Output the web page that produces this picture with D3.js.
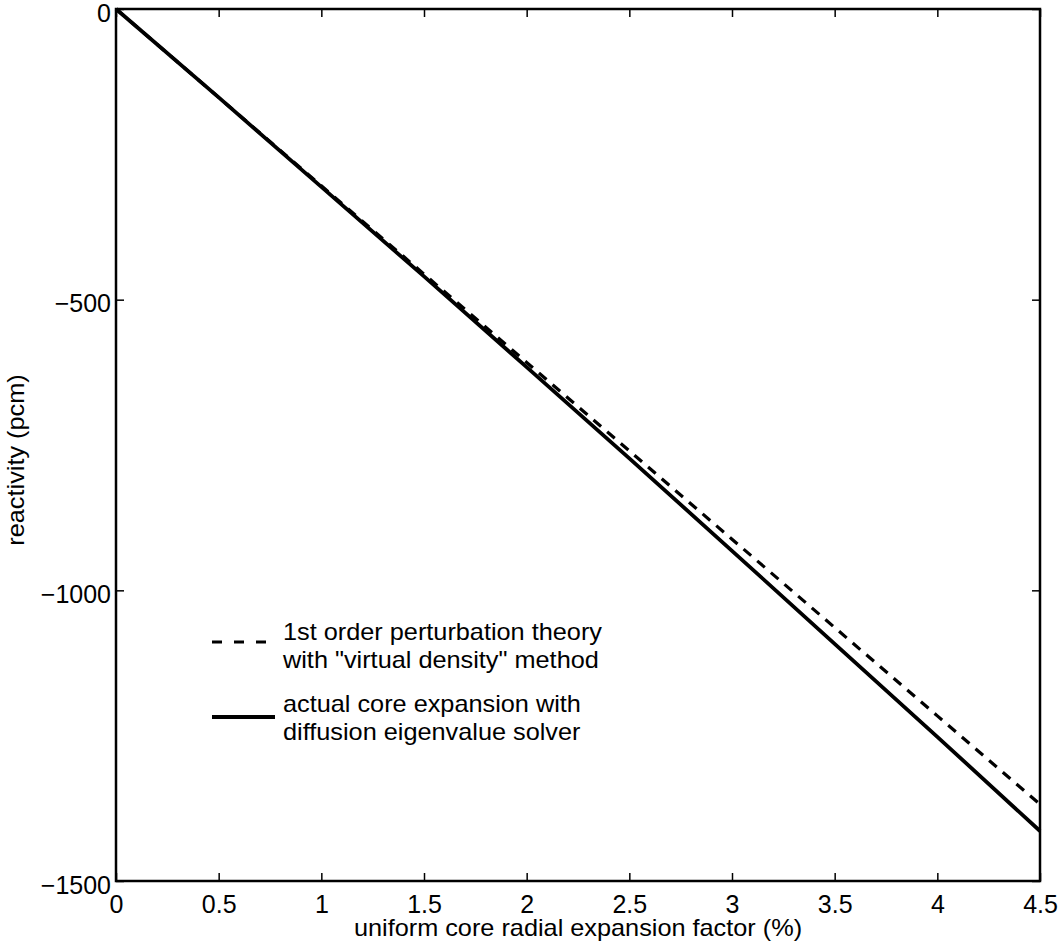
<!DOCTYPE html>
<html>
<head>
<meta charset="utf-8">
<script src="https://cdn.jsdelivr.net/npm/d3@7"></script>
<style>
	body { margin: 0; background: #fff; }
	svg text { font-family: "Liberation Sans", Arial, Helvetica, sans-serif; fill: #000; }
</style>
</head>
<body>
<div id="chart"></div>
<script>
// expansion factor (%)
var expansion = [0, 0.5, 1, 1.5, 2, 2.5, 3, 3.5, 4, 4.5];
// 1st order perturbation theory, "virtual density" method (pcm)
var perturbation = [0, -152, -304, -456, -608, -760, -912, -1064, -1216, -1368];
// actual core expansion, diffusion eigenvalue solver (pcm)
var actual = [0, -152, -306, -460, -616, -773, -932, -1092, -1252, -1414];

var xTicks = [0, 0.5, 1, 1.5, 2, 2.5, 3, 3.5, 4, 4.5];
var yTicks = [0, -500, -1000, -1500];

var legendItems = [
	{ lines: ["1st order perturbation theory", "with \"virtual density\" method"], dash: "10,12" },
	{ lines: ["actual core expansion with", "diffusion eigenvalue solver"], dash: null }
];

var W = 1061, H = 945;
var margin = { top: 9, right: 21, bottom: 64, left: 116 };
var width = W - margin.left - margin.right;
var height = H - margin.top - margin.bottom;

var svg = d3.select("#chart")
	.append("svg")
		.attr("width", W)
		.attr("height", H)
	.append("g")
		.attr("transform", "translate(" + margin.left + "," + margin.top + ")");

var x = d3.scaleLinear().domain([0, 4.5]).range([0, width]);
var y = d3.scaleLinear().domain([-1500, 0]).range([height, 0]);

var fmt = function(d) { return d < 0 ? "\u2212" + Math.abs(d) : String(d); };
var noDomain = function(g) { g.select(".domain").remove(); };

// axes, ticks pointing inward like matlab
svg.append("g")
	.attr("transform", "translate(0," + height + ")")
	.call(d3.axisBottom(x).tickValues(xTicks).tickSizeInner(-8).tickSizeOuter(0).tickPadding(14).tickFormat(d3.format("")))
	.call(noDomain);

svg.append("g")
	.call(d3.axisTop(x).tickValues(xTicks).tickSizeInner(-8).tickSizeOuter(0).tickFormat(""))
	.call(noDomain);

svg.append("g")
	.attr("class", "yaxis")
	.call(d3.axisLeft(y).tickValues(yTicks).tickSizeInner(-8).tickSizeOuter(0).tickPadding(5).tickFormat(fmt))
	.call(noDomain);

svg.append("g")
	.attr("transform", "translate(" + width + ",0)")
	.call(d3.axisRight(y).tickValues(yTicks).tickSizeInner(-8).tickSizeOuter(0).tickFormat(""))
	.call(noDomain);

svg.selectAll(".tick line").attr("stroke", "#000").attr("stroke-width", 1.5);
svg.selectAll(".tick text").attr("font-size", 25).attr("fill", "#000");
svg.selectAll(".yaxis .tick text").attr("dy", "0.48em");

// box
svg.append("rect")
	.attr("width", width)
	.attr("height", height)
	.attr("fill", "none")
	.attr("stroke", "#000")
	.attr("stroke-width", 2.5);

// lines
var line = d3.line()
	.x(function(d) { return x(d[0]); })
	.y(function(d) { return y(d[1]); });

svg.append("path")
	.datum(d3.zip(expansion, perturbation))
	.attr("fill", "none")
	.attr("stroke", "#000")
	.attr("stroke-width", 3.2)
	.attr("stroke-dasharray", "10,8")
	.attr("d", line);

svg.append("path")
	.datum(d3.zip(expansion, actual))
	.attr("fill", "none")
	.attr("stroke", "#000")
	.attr("stroke-width", 3.8)
	.attr("d", line);

// legend (no box), text slightly wide like the original helvetica
var legend = svg.append("g").attr("transform", "translate(96,623)");
legendItems.forEach(function(item, i) {
	var g = legend.append("g").attr("transform", "translate(0," + (i * 72) + ")");
	g.append("line")
		.attr("x1", 0).attr("x2", item.dash ? 56 : 63)
		.attr("y1", item.dash ? 10 : 13).attr("y2", item.dash ? 10 : 13)
		.attr("stroke", "#000")
		.attr("stroke-width", item.dash ? 3 : 3.8)
		.attr("stroke-dasharray", item.dash);
	item.lines.forEach(function(t, j) {
		g.append("text")
			.attr("transform", "translate(71," + (j * 28) + ") scale(1.1,1)")
			.attr("dy", "0.35em")
			.attr("font-size", 23)
			.text(t);
	});
});

// axis labels
svg.append("text")
	.attr("transform", "translate(" + (width / 2) + "," + (height + 55) + ") scale(1.1,1)")
	.attr("text-anchor", "middle")
	.attr("font-size", 23)
	.text("uniform core radial expansion factor (%)");

svg.append("text")
	.attr("transform", "translate(-92," + (height / 2 + 15) + ") rotate(-90) scale(1.1,1)")
	.attr("text-anchor", "middle")
	.attr("font-size", 23)
	.text("reactivity (pcm)");
</script>
</body>
</html>
